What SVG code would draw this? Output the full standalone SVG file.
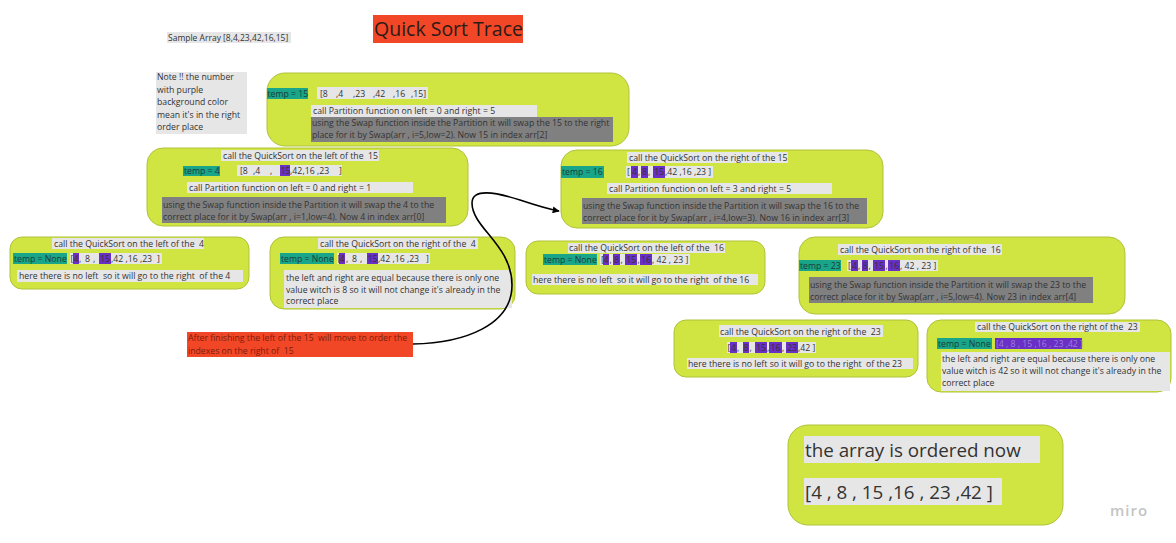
<svg xmlns="http://www.w3.org/2000/svg" width="1176" height="543" viewBox="0 0 1176 543">
<style>
.lime{fill:#d0e541;stroke:#b0c23a;stroke-width:1}
.teal{fill:#19a58a}
.lg{fill:#e6e6e6}
.dg{fill:#808080}
.pu{fill:#6a2fc4}
.t{font-family:"Open Sans","Liberation Sans",sans-serif;font-size:8.7px;fill:#333}
.tt{font-family:"Open Sans","Liberation Sans",sans-serif;font-size:8.7px;fill:#1d3b34}
.rt{font-family:"Open Sans","Liberation Sans",sans-serif;font-size:8.7px;fill:#7d1c0b}
.big{font-family:"Open Sans","Liberation Sans",sans-serif;font-size:18.8px;fill:#333}
</style>
<defs>
<marker id="arr" viewBox="0 0 10 10" refX="9" refY="5" markerWidth="7" markerHeight="7" orient="auto" markerUnits="userSpaceOnUse">
<path d="M0,0 L10,5 L0,10 z" fill="#000"/>
</marker>
</defs>
<rect width="1176" height="543" fill="#ffffff"/>

<g id="header">
<rect x="167" y="32" width="124" height="11" class="lg"/>
<text x="168" y="40.5" class="t" style="font-size:8.5px">Sample Array [8,4,23,42,16,15]</text>
<rect x="373" y="15" width="150" height="28" fill="#f24726"/>
<text x="374" y="36" style="font-family:'Open Sans','Liberation Sans',sans-serif;font-size:19.5px;fill:#2b1b17">Quick Sort Trace</text>
</g>

<g id="note">
<rect x="156" y="72" width="91" height="62" class="lg"/>
<text class="t"><tspan x="157" y="80">Note !! the number</tspan><tspan x="157" y="92.5">with purple</tspan><tspan x="157" y="105">background color</tspan><tspan x="157" y="117.5">mean it's in the right</tspan><tspan x="157" y="130">order place</tspan></text>
</g>

<g id="node-root">
<rect x="267" y="73" width="362" height="73" rx="18" class="lime"/>
<rect x="267" y="88" width="41" height="11" class="teal"/>
<text x="267.5" y="97" class="tt">temp = 15</text>
<rect x="317" y="87" width="111" height="12" class="lg"/>
<text class="t" y="97"><tspan x="320">[8</tspan><tspan x="336">,4</tspan><tspan x="353">,23</tspan><tspan x="373">,42</tspan><tspan x="393">,16</tspan><tspan x="411">,15]</tspan></text>
<rect x="311" y="105" width="226" height="12" class="lg"/>
<text x="313" y="114" class="t">call Partition function on left = 0 and right = 5</text>
<rect x="311" y="117" width="302" height="25" class="dg"/>
<text class="t"><tspan x="312" y="126">using the Swap function inside the Partition it will swap the 15 to the right</tspan><tspan x="312" y="138">place for it by Swap(arr , i=5,low=2). Now 15 in index arr[2]</tspan></text>
</g>

<g id="node-left-15">
<rect x="147" y="148" width="321" height="78" rx="16" class="lime"/>
<rect x="221" y="150" width="158" height="11" class="lg"/>
<text x="223" y="158.5" class="t" xml:space="preserve">call the QuickSort on the left of the  15</text>
<rect x="183" y="166" width="37" height="10" class="teal"/>
<text x="184" y="174" class="tt">temp = 4</text>
<rect x="237" y="165" width="105" height="11" class="lg"/>
<rect x="280" y="165" width="10" height="11" class="pu"/>
<text class="t" y="174"><tspan x="240">[8</tspan><tspan x="253">,4</tspan><tspan x="270">,</tspan><tspan x="280.5">15</tspan><tspan x="290">,42</tspan><tspan x="302.5">,16</tspan><tspan x="317">,23</tspan><tspan x="339">]</tspan></text>
<rect x="187" y="182" width="226" height="11" class="lg"/>
<text x="189" y="190.5" class="t">call Partition function on left = 0 and right = 1</text>
<rect x="162" y="197" width="284" height="26" class="dg"/>
<text class="t"><tspan x="163" y="207.5">using the Swap function inside the Partition it will swap the 4 to the</tspan><tspan x="163" y="219.5">correct place for it by Swap(arr , i=1,low=4). Now 4 in index arr[0]</tspan></text>
</g>

<g id="node-right-15">
<rect x="561" y="150" width="322" height="78" rx="16" class="lime"/>
<rect x="627" y="152" width="161" height="11" class="lg"/>
<text x="629" y="160.5" class="t">call the QuickSort on the right of the 15</text>
<rect x="561" y="166" width="43" height="12" class="teal"/>
<text x="562" y="175" class="tt">temp = 16</text>
<rect x="626" y="166" width="87" height="12" class="lg"/>
<rect x="631" y="166" width="7" height="12" class="pu"/>
<rect x="641" y="166" width="7" height="12" class="pu"/>
<rect x="653" y="166" width="12" height="12" class="pu"/>
<text class="t" y="175"><tspan x="627">[</tspan><tspan x="632">4</tspan><tspan x="638">,</tspan><tspan x="642">8</tspan><tspan x="648">,</tspan><tspan x="654">15</tspan><tspan x="665">,42 ,16 ,23 ]</tspan></text>
<rect x="607" y="183" width="225" height="11" class="lg"/>
<text x="609" y="191.5" class="t">call Partition function on left = 3 and right = 5</text>
<rect x="582" y="198" width="285" height="26" class="dg"/>
<text class="t"><tspan x="583" y="209">using the Swap function inside the Partition it will swap the 16 to the</tspan><tspan x="583" y="220.5">correct place for it by Swap(arr , i=4,low=3). Now 16 in index arr[3]</tspan></text>
</g>

<g id="node-left-4">
<rect x="10" y="237" width="239" height="52" rx="12" class="lime"/>
<rect x="52" y="238" width="152" height="11" class="lg"/>
<text x="54" y="246.5" class="t" xml:space="preserve">call the QuickSort on the left of the  4</text>
<rect x="13" y="253" width="54" height="11" class="teal"/>
<text x="14" y="262" class="tt">temp = None</text>
<rect x="70" y="253" width="92" height="11" class="lg"/>
<rect x="73" y="253" width="6" height="11" class="pu"/>
<rect x="99" y="253" width="12" height="11" class="pu"/>
<text class="t" y="262"><tspan x="70.5">[</tspan><tspan x="73.5">4</tspan><tspan x="79">,</tspan><tspan x="85">8</tspan><tspan x="93">,</tspan><tspan x="100">15</tspan><tspan x="111">,42 ,16 ,23</tspan><tspan x="157">]</tspan></text>
<rect x="17" y="270" width="226" height="12" class="lg"/>
<text x="19" y="279" class="t" xml:space="preserve">here there is no left  so it will go to the right  of the 4</text>
</g>

<g id="node-right-4">
<rect x="270" y="237" width="245" height="72" rx="14" class="lime"/>
<rect x="318" y="238" width="160" height="11" class="lg"/>
<text x="320" y="246.5" class="t" xml:space="preserve">call the QuickSort on the right of the  4</text>
<rect x="280" y="253" width="54" height="11" class="teal"/>
<text x="281" y="262" class="tt">temp = None</text>
<rect x="337" y="253" width="93" height="11" class="lg"/>
<rect x="339" y="253" width="6" height="11" class="pu"/>
<rect x="367" y="253" width="11" height="11" class="pu"/>
<text class="t" y="262"><tspan x="337.5">[</tspan><tspan x="339.5">4</tspan><tspan x="346">,</tspan><tspan x="352">8</tspan><tspan x="360">,</tspan><tspan x="367.5">15</tspan><tspan x="378">,42 ,16 ,23</tspan><tspan x="426">]</tspan></text>
<rect x="284" y="270" width="228" height="38" class="lg"/>
<text class="t"><tspan x="286" y="281">the left and right are equal because there is only one</tspan><tspan x="286" y="292.5">value witch is 8 so it will not change it's already in the</tspan><tspan x="286" y="304">correct place</tspan></text>
</g>

<g id="node-left-16">
<rect x="526" y="241" width="239" height="53" rx="12" class="lime"/>
<rect x="568" y="243" width="157" height="10" class="lg"/>
<text x="569" y="251" class="t" xml:space="preserve">call the QuickSort on the left of the  16</text>
<rect x="543" y="254" width="54" height="11" class="teal"/>
<text x="544" y="263" class="tt">temp = None</text>
<rect x="600" y="254" width="90" height="11" class="lg"/>
<rect x="603" y="254" width="6" height="11" class="pu"/>
<rect x="613" y="254" width="7" height="11" class="pu"/>
<rect x="625" y="254" width="12" height="11" class="pu"/>
<rect x="640" y="254" width="12" height="11" class="pu"/>
<text class="t" y="263"><tspan x="601">[</tspan><tspan x="603.5">4</tspan><tspan x="609.5">,</tspan><tspan x="614">8</tspan><tspan x="620.5">,</tspan><tspan x="626">15</tspan><tspan x="637.5">,</tspan><tspan x="641">16</tspan><tspan x="652">, 42 , 23 ]</tspan></text>
<rect x="532" y="274" width="226" height="11" class="lg"/>
<text x="533" y="282.5" class="t" xml:space="preserve">here there is no left  so it will go to the right  of the 16</text>
</g>

<g id="node-right-16">
<rect x="799" y="237" width="326" height="77" rx="16" class="lime"/>
<rect x="838" y="244" width="164" height="11" class="lg"/>
<text x="840" y="252.5" class="t" xml:space="preserve">call the QuickSort on the right of the  16</text>
<rect x="799" y="260" width="42" height="11" class="teal"/>
<text x="800" y="269" class="tt">temp = 23</text>
<rect x="847" y="260" width="91" height="11" class="lg"/>
<rect x="851" y="260" width="7" height="11" class="pu"/>
<rect x="862" y="260" width="6" height="11" class="pu"/>
<rect x="873" y="260" width="12" height="11" class="pu"/>
<rect x="888" y="260" width="12" height="11" class="pu"/>
<text class="t" y="269"><tspan x="848">[</tspan><tspan x="852">4</tspan><tspan x="858">,</tspan><tspan x="862.5">8</tspan><tspan x="868.5">,</tspan><tspan x="874">15</tspan><tspan x="885.5">,</tspan><tspan x="889">16</tspan><tspan x="900">, 42 , 23 ]</tspan></text>
<rect x="809" y="277" width="284" height="26" class="dg"/>
<text class="t"><tspan x="810" y="288">using the Swap function inside the Partition it will swap the 23 to the</tspan><tspan x="810" y="299.5">correct place for it by Swap(arr , i=5,low=4). Now 23 in index arr[4]</tspan></text>
</g>

<g id="node-right-23-a">
<rect x="674" y="320" width="244" height="57" rx="12" class="lime"/>
<rect x="719" y="325" width="164" height="12" class="lg"/>
<text x="720" y="334.5" class="t" xml:space="preserve">call the QuickSort on the right of the  23</text>
<rect x="727" y="342" width="89" height="11" class="lg"/>
<rect x="730" y="342" width="7" height="11" class="pu"/>
<rect x="743" y="342" width="6" height="11" class="pu"/>
<rect x="755" y="342" width="12" height="11" class="pu"/>
<rect x="769" y="342" width="13" height="11" class="pu"/>
<rect x="786" y="342" width="12" height="11" class="pu"/>
<text class="t" y="351"><tspan x="727.5">[</tspan><tspan x="731">4</tspan><tspan x="737">,</tspan><tspan x="743.5">8</tspan><tspan x="749.5">,</tspan><tspan x="756">15</tspan><tspan x="767">,</tspan><tspan x="770.5">16</tspan><tspan x="782">,</tspan><tspan x="787">23</tspan><tspan x="798">,42 ]</tspan></text>
<rect x="687" y="358" width="226" height="11" class="lg"/>
<text x="688" y="366.5" class="t" xml:space="preserve">here there is no left so it will go to the right  of the 23</text>
</g>

<g id="node-right-23-b">
<rect x="927" y="320" width="244" height="72" rx="14" class="lime"/>
<rect x="975" y="322" width="165" height="10" class="lg"/>
<text x="977" y="330" class="t" xml:space="preserve">call the QuickSort on the right of the  23</text>
<rect x="937" y="338" width="55" height="11" class="teal"/>
<text x="938" y="346.5" class="tt">temp = None</text>
<rect x="995" y="338" width="87" height="11" class="pu"/>
<text x="996" y="346.5" class="t" style="fill:#9a7fdc">[4 , 8 , 15 ,16 , 23 ,42 ]</text>
<rect x="941" y="352" width="229" height="39" class="lg"/>
<text class="t"><tspan x="942" y="362">the left and right are equal because there is only one</tspan><tspan x="942" y="374">value witch is 42 so it will not change it's already in the</tspan><tspan x="942" y="386">correct place</tspan></text>
</g>

<g id="node-annotation">
<rect x="187" y="332" width="226" height="25" fill="#f24726"/>
<text class="rt"><tspan x="188" y="341" xml:space="preserve">After finishing the left of the 15  will move to order the</tspan><tspan x="188" y="353.5" xml:space="preserve">indexes on the right of  15</tspan></text>
</g>

<g id="node-result">
<rect x="788" y="425" width="275" height="100" rx="20" class="lime"/>
<rect x="804" y="436" width="236" height="27" class="lg"/>
<text x="805" y="457" class="big">the array is ordered now</text>
<rect x="804" y="478" width="198" height="27" class="lg"/>
<text x="805" y="499" class="big">[4 , 8 , 15 ,16 , 23 ,42 ]</text>
</g>

<g id="connectors">
<path d="M413,344 C465,343 512,325 512,285 C512,245 472,228 472,203 C472,188 495,192 520,200 C535,205 548,209 559,211" fill="none" stroke="#000" stroke-width="1.6" marker-end="url(#arr)"/>
</g>

<g id="logo">
<text x="1110" y="516" style="font-family:'Open Sans','Liberation Sans',sans-serif;font-size:15px;font-weight:600;fill:#c4c4c4;letter-spacing:1px">miro</text>
</g>
</svg>
